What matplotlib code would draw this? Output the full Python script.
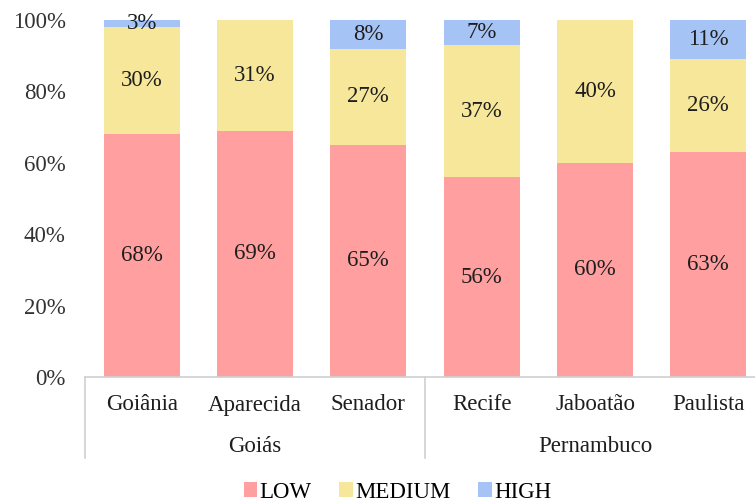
import matplotlib
matplotlib.use("Agg")
import matplotlib.pyplot as plt
from matplotlib.patches import Patch
from matplotlib.lines import Line2D
import numpy as np

plt.rcParams['font.family'] = ['Liberation Serif', 'DejaVu Serif']

cities = ["Goiânia", "Aparecida", "Senador", "Recife", "Jaboatão", "Paulista"]
states = ["Goiás", "Pernambuco"]
state_sizes = [3, 3]
low = [68, 69, 65, 56, 60, 63]
medium = [30, 31, 27, 37, 40, 26]
high = [3, 0, 8, 7, 0, 11]

series = [("LOW", low, "#FF9F9F"),
          ("MEDIUM", medium, "#F7E79A"),
          ("HIGH", high, "#A6C3F5")]

FS = 16.5
TXT = "#1E1E1E"

fig = plt.figure(figsize=(7.55, 5.04), dpi=100)
ax = fig.add_axes([85 / 755, 1 - 377 / 504, 680 / 755, 357 / 504])

x = np.arange(len(cities))
bottom = np.zeros(len(cities))
for name, vals, color in series:
    vals = np.array(vals, dtype=float)
    ax.bar(x, vals / 100, width=0.67, bottom=bottom / 100, color=color,
           label=name, zorder=2)
    for xi, b, v in zip(x, bottom, vals):
        if v > 0:
            top = min(b + v, 100)
            ax.text(xi, (b + top) / 200, f"{int(v)}%", ha="center",
                    va="center", fontsize=FS, color=TXT, zorder=3)
    bottom += vals

ax.set_ylim(0, 1)
ax.set_xlim(-0.5, 5.5)
ax.set_yticks(np.linspace(0, 1, 6))
ax.set_yticklabels([f"{int(v)}%" for v in np.linspace(0, 100, 6)],
                   fontsize=FS, color="#333333")
ax.tick_params(axis="y", length=0, pad=14)
ax.set_xticks([])
for s in ["top", "right", "left"]:
    ax.spines[s].set_visible(False)
ax.spines["bottom"].set_color("#D0D0D0")
ax.spines["bottom"].set_linewidth(1.2)

# category and group labels below the axis
trans = ax.get_xaxis_transform()
for xi, c in zip(x, cities):
    ax.text(xi, -28 / 357, c, transform=trans, ha="center", va="center",
            fontsize=FS, color=TXT)
start = 0
seps = [-0.5]
for st, n in zip(states, state_sizes):
    center = start + (n - 1) / 2
    ax.text(center, -70 / 357, st, transform=trans, ha="center",
            va="center", fontsize=FS, color=TXT)
    start += n
    seps.append(start - 0.5)
for sx in seps:
    ax.add_line(Line2D([sx, sx], [0, -81 / 357], transform=trans,
                       color="#D0D0D0", lw=1.2, clip_on=False))

handles = [Patch(facecolor=c, edgecolor="none", label=n) for n, _, c in series]
fig.legend(handles=handles, loc="center",
           bbox_to_anchor=(0.5 + 20 / 755, 1 - 492 / 504),
           ncol=3, frameon=False, fontsize=FS, handlelength=0.6,
           handleheight=0.6, handletextpad=0.1, columnspacing=1.2)

fig.savefig("out.png", dpi=100)
